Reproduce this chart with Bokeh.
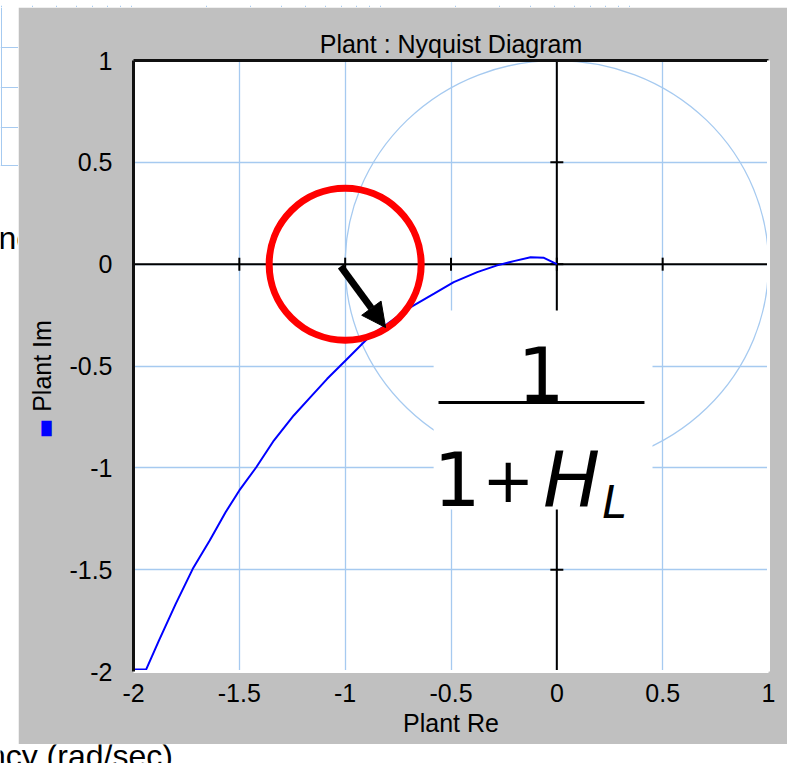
import numpy as np
from bokeh.plotting import figure
from bokeh.layouts import column, row
from bokeh.models import (Range1d, FixedTicker, LinearAxis, Arrow, NormalHead,
                          BoxAnnotation, Label)
from bokeh.core.properties import value
from bokeh.embed import file_html
from bokeh.resources import INLINE

# ---- data: Nyquist locus of the plant (real / imaginary parts) ----
PLANT_RE = [-2.0, -1.94, -1.88, -1.80, -1.72, -1.64, -1.565, -1.50, -1.42, -1.337,
            -1.243, -1.164, -1.085, -0.998, -0.88, -0.80, -0.69, -0.58, -0.487,
            -0.376, -0.282, -0.203, -0.124, -0.061, 0.0]
PLANT_IM = [-1.99, -1.99, -1.848, -1.667, -1.496, -1.357, -1.218, -1.111, -0.997, -0.866,
            -0.743, -0.653, -0.563, -0.473, -0.350, -0.293, -0.211, -0.145, -0.088,
            -0.039, -0.006, 0.015, 0.034, 0.031, 0.0]

X_TICKS = [-2, -1.5, -1, -0.5, 0, 0.5, 1]
X_TICK_LABELS = ["-2", "-1.5", "-1", "-0.5", "0", "0.5", "1"]
Y_TICKS = [1, 0.5, 0, -0.5, -1, -1.5, -2]
Y_TICK_LABELS = ["1", "0.5", "0", "-0.5", "-1", "-1.5", "-2"]

X_MIN, X_MAX = -2, 1
Y_MIN, Y_MAX = -2, 1
CRITICAL_RE, CRITICAL_IM = -1.0, 0.0
UNIT_RADIUS = 1.0

GRID_BLUE = "#a6caf0"
PANEL_GRAY = "#c0c0c0"
FONT = "Liberation Sans"
MATH_FONT = "DejaVu Sans"

# ---- main Nyquist panel ----
p = figure(width=769, height=737,
           x_range=Range1d(X_MIN, X_MAX), y_range=Range1d(Y_MIN, Y_MAX),
           output_backend="svg", toolbar_location=None,
           min_border_left=115, min_border_right=19,
           min_border_top=53, min_border_bottom=73,
           background_fill_color="white", border_fill_color=PANEL_GRAY,
           outline_line_color=None, title="Plant : Nyquist Diagram")

p.title.align = "center"
p.title.text_font = FONT
p.title.text_font_size = "25px"
p.title.text_font_style = "normal"
p.title.text_color = "black"
p.title.standoff = 6

xa = p.xaxis[0]
ya = p.yaxis[0]
xa.ticker = FixedTicker(ticks=X_TICKS)
ya.ticker = FixedTicker(ticks=Y_TICKS)
xa.major_label_overrides = dict(zip(X_TICKS, X_TICK_LABELS))
ya.major_label_overrides = dict(zip(Y_TICKS, Y_TICK_LABELS))
xa.axis_label = "Plant Re"
ya.axis_label = "Plant Im"
for ax in (xa, ya):
    ax.major_label_text_font = FONT
    ax.major_label_text_font_size = "25px"
    ax.major_label_text_color = "black"
    ax.axis_label_text_font = FONT
    ax.axis_label_text_font_size = "25px"
    ax.axis_label_text_font_style = "normal"
    ax.axis_label_text_color = "black"
    ax.major_tick_in = 0
    ax.major_tick_out = 0
    ax.minor_tick_in = 0
    ax.minor_tick_out = 0
    ax.axis_line_width = 3
xa.major_label_standoff = 12
xa.axis_label_standoff = 4
xa.axis_line_color = "white"
ya.major_label_standoff = 21
ya.axis_label_standoff = 10
ya.axis_line_color = "#101010"

# sunken frame edges on the top and right sides
for side, col in (("above", "#101010"), ("right", "white")):
    edge = LinearAxis(ticker=FixedTicker(ticks=[]), axis_line_color=col,
                      axis_line_width=3, major_tick_in=0, major_tick_out=0,
                      minor_tick_in=0, minor_tick_out=0)
    p.add_layout(edge, side)

p.xgrid.ticker = FixedTicker(ticks=X_TICKS)
p.ygrid.ticker = FixedTicker(ticks=Y_TICKS)
p.grid.grid_line_color = GRID_BLUE
p.grid.grid_line_width = 1.3

# unit circle
p.ellipse(x=[0], y=[0], width=[2 * UNIT_RADIUS], height=[2 * UNIT_RADIUS],
          fill_color=None, line_color=GRID_BLUE, line_width=1.3)

# real and imaginary axes through the origin, with tick marks
p.segment(x0=[X_MIN, 0], y0=[0, Y_MIN], x1=[X_MAX, 0], y1=[0, Y_MAX],
          line_color="black", line_width=2)
p.scatter(x=X_TICKS, y=[0] * len(X_TICKS), marker="dash", size=13,
          angle=np.pi / 2, line_color="black", line_width=2)
p.scatter(x=[0] * len(Y_TICKS), y=Y_TICKS, marker="dash", size=13,
          line_color="black", line_width=2)

# Nyquist locus
p.line(PLANT_RE, PLANT_IM, line_color="#0000ff", line_width=2)

# circle around the critical point and the distance arrow
p.scatter(x=[CRITICAL_RE], y=[CRITICAL_IM], marker="circle", size=152,
          fill_color=None, line_color="#ff0000", line_width=7)
p.add_layout(Arrow(end=NormalHead(size=24, fill_color="black", line_color="black"),
                   x_start=-1.021, y_start=-0.011, x_end=-0.809, y_end=-0.311,
                   line_color="black", line_width=7))

# legend swatch under the y axis title; it lives in the roomy right side
# panel so the frame keeps its place, and is shifted back to the left edge
p.add_layout(Label(x=-722, y=243, x_units="screen", y_units="screen", text="\u2588",
                   text_font=MATH_FONT, text_font_size="13px", text_align="center",
                   text_baseline="middle", text_color="#0000ff"), "right")

# sensitivity formula 1 / (1 + H_L)
p.add_layout(BoxAnnotation(left=-0.582, right=0.452, top=-0.227, bottom=-1.204,
                           fill_color="white", fill_alpha=1, line_color=None))
p.add_layout(BoxAnnotation(left=-0.559, right=0.414, top=-0.672, bottom=-0.687,
                           fill_color="black", fill_alpha=1, line_color=None))
formula = [
    ("1", -0.075, -0.536, "74px", "normal", "center"),
    ("1", -0.471, -1.052, "74px", "normal", "center"),
    ("+", -0.230, -1.056, "62px", "normal", "center"),
    ("H", -0.065, -1.062, "76px", "italic", "left"),
    ("L", 0.215, -1.171, "44px", "italic", "left"),
]
for txt, fx, fy, fs, style, align in formula:
    p.add_layout(Label(x=fx, y=fy, text=txt, text_font=MATH_FONT,
                       text_font_size=fs, text_font_style=style,
                       text_align=align, text_baseline="alphabetic",
                       text_color="black"))


# ---- Bode plot window lying underneath ----
def bg_fig(w, h, xr, yr, log_x=False):
    f = figure(width=w, height=h, x_range=xr, y_range=yr,
               x_axis_type="log" if log_x else "linear",
               output_backend="svg", toolbar_location=None, min_border=0,
               background_fill_color="white", border_fill_color="white",
               outline_line_color=None)
    f.axis.visible = False
    f.grid.grid_line_color = None
    return f


# frequency grid: decades 0.01..10 rad/sec
FREQ_GRID = [k * 10.0 ** d for d in (-2, -1, 0) for k in range(1, 10)] + [10.0]
LOG_LO = -1 - 131 / 249
DEC_PX = 249

top = bg_fig(787, 7, Range1d(10 ** LOG_LO, 10 ** (LOG_LO + 787 / DEC_PX)),
             Range1d(0, 7), log_x=True)
top.xgrid.ticker = FixedTicker(ticks=FREQ_GRID)
top.xgrid.grid_line_color = GRID_BLUE

left_grid = bg_fig(18, 159, Range1d(10 ** LOG_LO, 10 ** (LOG_LO + 18 / DEC_PX)),
                   Range1d(166, 7), log_x=True)
left_grid.xgrid.ticker = FixedTicker(ticks=FREQ_GRID)
left_grid.ygrid.ticker = FixedTicker(ticks=[47, 87, 127, 165])
left_grid.grid.grid_line_color = GRID_BLUE

left_text = bg_fig(18, 578, Range1d(0, 18), Range1d(578, 0))
left_text.text(x=[-2], y=[71], text=["nc"], text_font=value(FONT),
               text_font_size="32px", text_baseline="alphabetic", text_color="black")

bottom = bg_fig(787, 19, Range1d(0, 787), Range1d(19, 0))
bottom.text(x=[-114], y=[11], text=["Frequency (rad/sec)"], text_font=value(FONT),
            text_font_size="32px", text_baseline="alphabetic", text_color="black")

layout = column(top, row(column(left_grid, left_text), p), bottom)

open("out.html", "w").write(file_html(layout, INLINE))
